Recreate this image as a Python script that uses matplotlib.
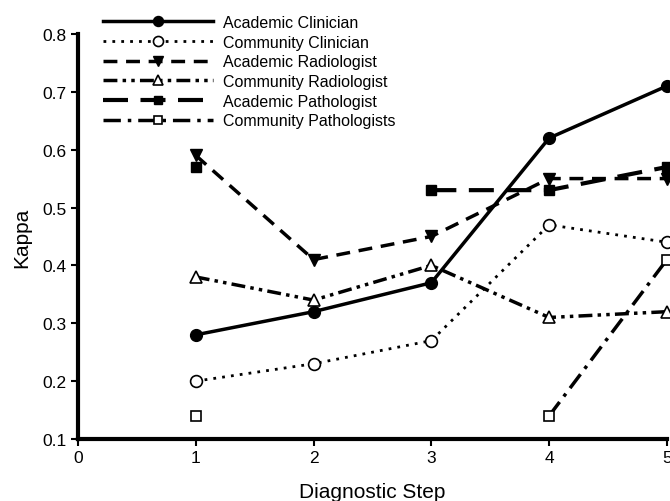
import numpy as np
import matplotlib
matplotlib.use("Agg")
import matplotlib.pyplot as plt

plt.rcParams['font.family'] = ['Liberation Sans', 'DejaVu Sans']

steps = [1, 2, 3, 4, 5]
academic_clinician = [0.28, 0.32, 0.37, 0.62, 0.71]
community_clinician = [0.20, 0.23, 0.27, 0.47, 0.44]
academic_radiologist = [0.59, 0.41, 0.45, 0.55, 0.55]
community_radiologist = [0.38, 0.34, 0.40, 0.31, 0.32]
academic_pathologist = [0.57, np.nan, 0.53, 0.53, 0.57]
community_pathologists = [0.14, np.nan, np.nan, 0.14, 0.41]

fig = plt.figure(figsize=(6.7, 5.02), dpi=100)
ax = fig.add_axes([0.1164, 0.1235, 0.879, 0.807])

k = dict(color='black', clip_on=False)
ax.plot(steps, academic_clinician, linestyle='-', lw=2.5, marker='o', ms=8.5,
        mfc='black', label='Academic Clinician', **k)
ax.plot(steps, community_clinician, linestyle=(0, (1, 2.2)), lw=2, marker='o', ms=8.5,
        mfc='white', mew=1.2, label='Community Clinician', **k)
ax.plot(steps, academic_radiologist, linestyle=(0, (4, 2.5)), lw=2.5, marker='v', ms=8,
        mfc='black', label='Academic Radiologist', **k)
ax.plot(steps, community_radiologist, linestyle=(0, (4, 1.5, 1, 1.5, 1, 1.5)), lw=2.5,
        marker='^', ms=8, mfc='white', mew=1.2, label='Community Radiologist', **k)
ax.plot(steps, academic_pathologist, linestyle=(0, (6, 3)), lw=3, marker='s', ms=7,
        mfc='black', label='Academic Pathologist', **k)
ax.plot(steps, community_pathologists, linestyle=(0, (5, 2, 1, 2)), lw=2.5, marker='s', ms=7,
        mfc='white', mew=1.2, label='Community Pathologists', **k)

ax.set_xlim(0, 5)
ax.set_ylim(0.1, 0.8)
ax.set_xticks([0, 1, 2, 3, 4, 5])
ax.set_yticks([0.1, 0.2, 0.3, 0.4, 0.5, 0.6, 0.7, 0.8])
ax.set_yticklabels(['0.1', '0.2', '0.3', '0.4', '0.5', '0.6', '0.7', '0.8'])
for s in ['top', 'right']:
    ax.spines[s].set_visible(False)
for s in ['left', 'bottom']:
    ax.spines[s].set_linewidth(3)
ax.tick_params(axis='both', direction='out', length=5, width=1.5, labelsize=12.5, pad=3)
ax.set_xlabel('Diagnostic Step', fontsize=15, labelpad=12)
ax.set_ylabel('Kappa', fontsize=15, labelpad=8)

fig.legend(loc='upper left', bbox_to_anchor=(0.1537, 0.968), frameon=False, fontsize=11.5,
           handlelength=6.9, handletextpad=0.63, labelspacing=0.29, borderaxespad=0,
           borderpad=0, markerscale=0.85)

fig.savefig('out.png', dpi=100)
